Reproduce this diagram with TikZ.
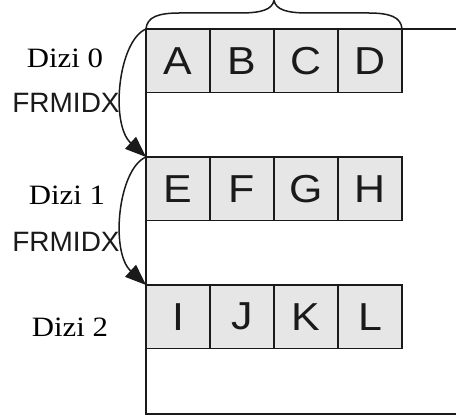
\documentclass[tikz,border=0pt]{standalone}
\usepackage{fontspec}
\usetikzlibrary{arrows.meta}
\newfontfamily\dizifont[FakeStretch=1.1]{Liberation Serif}
\newfontfamily\cellfont[FakeStretch=1.1]{Liberation Sans}
\newfontfamily\idxfont{Liberation Sans}
\definecolor{ink}{HTML}{1A1A1A}
\definecolor{cellgray}{HTML}{E6E6E6}
\begin{document}
\begin{tikzpicture}[x=1pt,y=1pt,
  line width=1.9pt, draw=ink,
  cell/.style={draw=ink, fill=cellgray, minimum width=64pt, minimum height=63.5pt,
    inner sep=0pt, outer sep=0pt, text=ink, font=\cellfont\fontsize{39}{39}\selectfont},
  arrname/.style={anchor=base, text=black, font=\dizifont\fontsize{28}{28}\selectfont},
  idxname/.style={anchor=base, text=ink, font=\idxfont\fontsize{28}{28}\selectfont},
  link/.style={draw=ink, line width=1.5pt, -{Triangle[length=21pt,width=16pt]}}]
\useasboundingbox (0,0) rectangle (456,419);

% array rows
\foreach \name [count=\i from 0] in {A,B,C,D}
  \node[cell] (\name) at (178+64*\i, 358.25) {\name};
\foreach \name [count=\i from 0] in {E,F,G,H}
  \node[cell] (\name) at (178+64*\i, 230.25) {\name};
\foreach \name [count=\i from 0] in {I,J,K,L}
  \node[cell] (\name) at (178+64*\i, 102.25) {\name};

% outer frame
\coordinate (tr) at (456,390);
\coordinate (bl) at (146,5);
\coordinate (br) at (456,5);
\draw (tr) -- (A.north west) -- (bl) -- (br);

% brace over the first row
\coordinate (tip) at (274,418.5);
\draw[line width=1.5pt] (A.north west) .. controls +(1,12) and +(-22,0) .. (180,406)
  -- (240,406) .. controls +(22,0) and +(-2,-9) .. (tip)
  .. controls +(2,-9) and +(-22,0) .. (308,406)
  -- (368,406) .. controls +(22,0) and +(-1,12) .. (D.north east);

% links between rows
\draw[link] (A.north west) .. controls +(-28,-12) and +(-36,33) .. (E.north west);
\draw[link] (E.north west) .. controls +(-28,-12) and +(-36,33) .. (I.north west);

% labels
\node[arrname] (d0) at (65,351) {Dizi 0};
\node[idxname] (f0) at (66,306) {FRMIDX};
\node[arrname] (d1) at (67,214) {Dizi 1};
\node[idxname] (f1) at (66,167) {FRMIDX};
\node[arrname] (d2) at (70,82) {Dizi 2};
\end{tikzpicture}
\end{document}
